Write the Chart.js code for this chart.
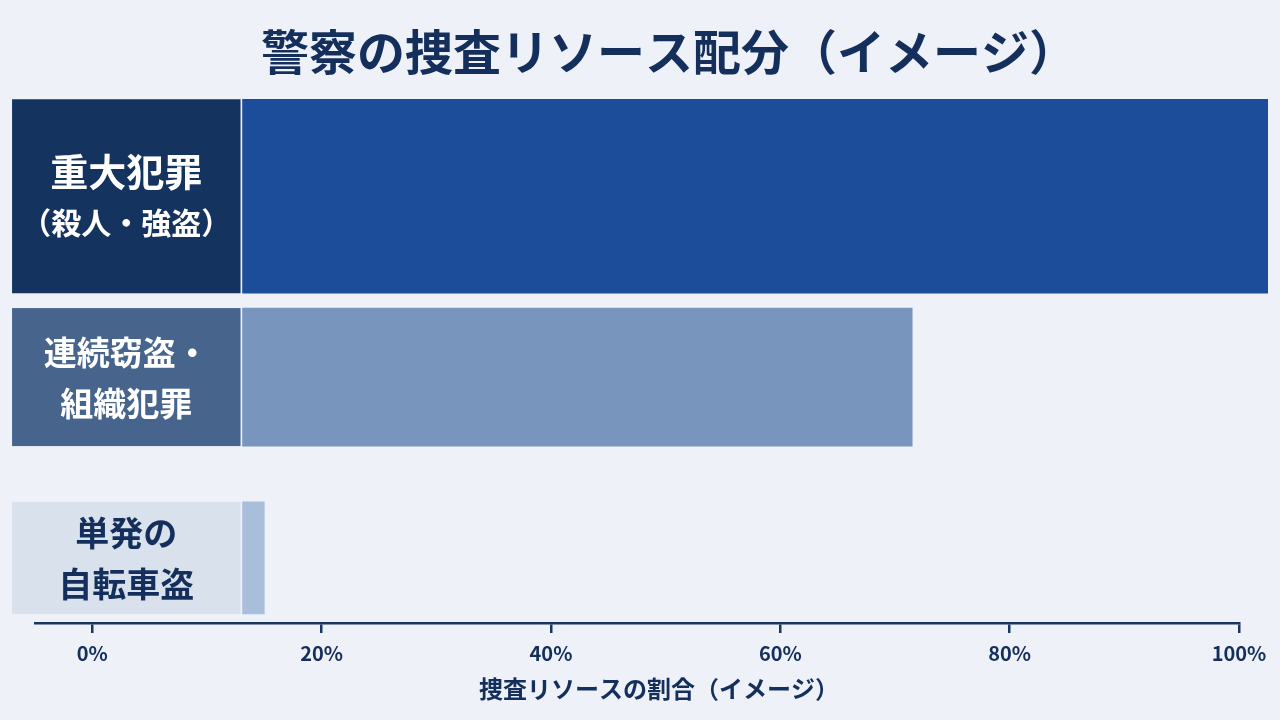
<!DOCTYPE html>
<html lang="ja">
<head>
<meta charset="utf-8">
<title>警察の捜査リソース配分（イメージ）</title>
<script src="https://cdn.jsdelivr.net/npm/chart.js@4.4.1/dist/chart.umd.min.js"></script>
<style>
  html, body { margin: 0; padding: 0; background: #eef2f8; }
  #wrap { width: 1280px; height: 720px; position: relative; }
</style>
</head>
<body>
<div id="wrap"><canvas id="chart"></canvas></div>
<script>
// ===========================
// Data
// ===========================
const TITLE = '警察の捜査リソース配分（イメージ）';
const AXIS_TITLE = '捜査リソースの割合（イメージ）';
const CATEGORIES = [
  ['重大犯罪', '（殺人・強盗）'],
  ['連続窃盗・', '組織犯罪'],
  ['単発の', '自転車盗']
];
const RESOURCE_SHARE = [102.5, 71.5, 15];   // bar end, % on the axis
const TICK_VALUES = [0, 20, 40, 60, 80, 100];

// ===========================
// Style
// ===========================
const FONT = "'Noto Sans CJK JP', 'Noto Sans', sans-serif";
const NAVY = '#142f5c';
const AXIS_COLOR = '#1b3563';
const BAR_COLORS = ['#1c4d9b', '#7795bd', '#a9bedb'];
const PANEL_COLORS = ['#15335f', '#46648c', '#d9e1ec'];
const PANEL_TEXT = ['#ffffff', '#ffffff', NAVY];
const PANEL_FONT = [[38, 30], [33, 33], [34, 34]];
const BAR_THICKNESS = [194, 138, 112];
const BAR_START = 13.1;     // bars begin right after the label panel
const PANEL_FROM = -7;      // left edge of the label panel
const PANEL_GAP = 2;

Chart.defaults.font.family = FONT;

// ===========================
// Label panels + titles plugin
// ===========================
const labelPanels = {
  id: 'labelPanels',
  afterDatasetsDraw(chart) {
    const ctx = chart.ctx;
    const left = chart.scales.x.getPixelForValue(PANEL_FROM);
    chart.data.datasets.forEach((ds, i) => {
      const bar = chart.getDatasetMeta(i).data[0];
      if (!bar) return;
      const top = bar.y - bar.height / 2;
      const right = bar.base - PANEL_GAP;
      ctx.save();
      ctx.fillStyle = PANEL_COLORS[i];
      ctx.fillRect(left, top, right - left, bar.height);
      ctx.fillStyle = PANEL_TEXT[i];
      ctx.textAlign = 'center';
      ctx.textBaseline = 'middle';
      const cx = (left + right) / 2;
      const offsets = [-25, 26];
      CATEGORIES[i].forEach((line, j) => {
        ctx.font = `bold ${PANEL_FONT[i][j]}px ${FONT}`;
        ctx.fillText(line, cx, bar.y + offsets[j]);
      });
      ctx.restore();
    });
  },
  afterDraw(chart) {
    const ctx = chart.ctx;
    ctx.save();
    ctx.fillStyle = NAVY;
    ctx.textBaseline = 'middle';
    ctx.textAlign = 'left';
    ctx.font = `bold 48px ${FONT}`;
    ctx.fillText(TITLE, 261, 52);
    ctx.font = `bold 24px ${FONT}`;
    ctx.fillText(AXIS_TITLE, 479, 689);
    ctx.restore();
  }
};

// ===========================
// Chart
// ===========================
const datasets = CATEGORIES.map((cat, i) => ({
  label: cat.join(''),
  data: [{ y: i, x: [BAR_START, RESOURCE_SHARE[i]] }],
  backgroundColor: BAR_COLORS[i],
  borderWidth: 0,
  barThickness: BAR_THICKNESS[i],
  grouped: false,
  clip: false
}));

new Chart(document.getElementById('chart'), {
  type: 'bar',
  data: { datasets },
  plugins: [labelPanels],
  options: {
    indexAxis: 'y',
    responsive: true,
    maintainAspectRatio: false,
    animation: false,
    layout: { padding: { left: 35, right: 41, top: 95, bottom: 47 } },
    plugins: {
      legend: { display: false },
      tooltip: { enabled: false },
      title: { display: false }
    },
    scales: {
      y: {
        type: 'linear',
        reverse: true,
        offset: false,
        min: -0.56,
        max: 2.36,
        display: false
      },
      x: {
        type: 'linear',
        min: -5,
        max: 100,
        afterBuildTicks: scale => { scale.ticks = TICK_VALUES.map(v => ({ value: v })); },
        grid: { drawOnChartArea: false, drawTicks: true, tickLength: 10, color: AXIS_COLOR, lineWidth: 2.5 },
        border: { display: true, color: AXIS_COLOR, width: 2.5 },
        ticks: {
          color: NAVY,
          font: { size: 20, weight: 'bold' },
          padding: 8,
          maxRotation: 0,
          callback: v => v + '%'
        },
        title: { display: false }
      }
    }
  }
});
</script>
</body>
</html>
